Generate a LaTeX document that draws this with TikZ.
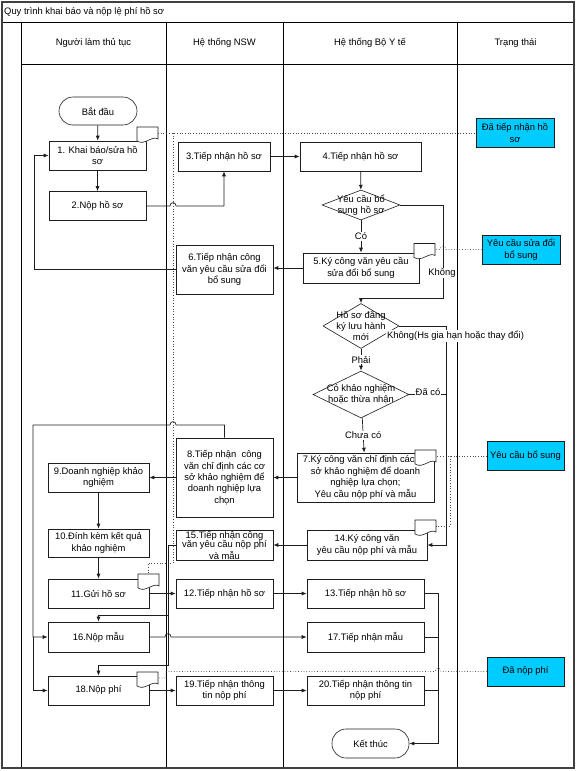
\documentclass[tikz,border=0pt]{standalone}
\usepackage{fontspec}
\setmainfont{Liberation Sans}
\usetikzlibrary{arrows.meta,shapes.geometric}
\definecolor{stcyan}{RGB}{0,204,255}
\definecolor{lnc}{RGB}{30,30,30}
\tikzset{
  docic/.pic={
    \draw[draw=lnc, line width=0.6pt, fill=white] (0,0) -- (21,0) -- (21,12) .. controls (15,8) and (8,19) .. (0,14) -- cycle;
    \coordinate (-r) at (21,6);
    \coordinate (-t) at (10,0);
  }
}
\begin{document}
\begin{tikzpicture}[x=1pt,y=-1pt,
  every node/.style={font=\fontsize{9.4}{11.4}\selectfont},
  box/.style={draw=lnc, line width=0.6pt, fill=white, align=center, inner sep=0pt},
  term/.style={box, rounded corners=14pt},
  stat/.style={box, fill=stcyan, minimum width=78pt, minimum height=29pt},
  dia/.style={draw=lnc, line width=0.6pt, fill=white, diamond, inner sep=0pt},
  txt/.style={align=center, inner sep=0pt},
  lbl/.style={inner sep=0.8pt, fill=white},
  conn/.style={draw=lnc, line width=0.7pt},
  arr/.style={conn, -{Latex[length=5pt,width=4pt]}},
  dot/.style={draw=gray!60!black, line width=0.7pt, dotted},
  lane/.style={draw=black, line width=0.8pt}
]
\useasboundingbox (0,0) rectangle (576,771);
% frame and lanes
\draw[lane] (2,22) -- (574,22);
\draw[lane] (21,64) -- (574,64);
\foreach \xx in {21,166,283,457} { \draw[lane] (\xx,22) -- (\xx,768); }
\draw[draw=black!75, line width=1.3pt] (2,2) rectangle (574,768);
\node[anchor=west, inner sep=0pt] (title) at (4,12) {Quy trình khai báo và nộp lệ phí hồ sơ};
\node (h1) at (93.5,43) {Người làm thủ tục};
\node (h2) at (224.5,43) {Hệ thống NSW};
\node (h3) at (370,43) {Hệ thống Bộ Y tế};
\node (h4) at (515.5,43) {Trạng thái};

% nodes
\node[term, minimum width=78pt, minimum height=28pt] (start) at (98,111) {Bắt đầu};
\node[box, minimum width=97pt, minimum height=29pt] (b1) at (97.5,155.5) {1. Khai báo/sửa hồ\\sơ};
\node[box, minimum width=97pt, minimum height=29pt] (b2) at (97.5,206) {2.Nộp hồ sơ};
\node[box, minimum width=92pt, minimum height=29pt] (b3) at (224,156.5) {3.Tiếp nhận hồ sơ};
\node[box, minimum width=121pt, minimum height=29pt] (b4) at (360.5,156.5) {4.Tiếp nhận hồ sơ};
\node[dia, minimum width=78pt, minimum height=30pt] (d1) at (361,205) {};
\node[txt] (d1t) at (d1) {Yêu cầu bổ\\sung hồ sơ};
\node[box, minimum width=116pt, minimum height=30pt] (b5) at (361,268) {5.Ký công văn yêu cầu\\sửa đổi bổ sung};
\node[box, minimum width=97pt, minimum height=49pt] (b6) at (224.5,269.5) {6.Tiếp nhận công\\văn yêu cầu sửa đổi\\bổ sung};
\node[dia, minimum width=76pt, minimum height=45pt] (d2) at (361,326) {};
\node[txt] (d2t) at (d2) {Hồ sơ đăng\\ký lưu hành\\mới};
\node[dia, minimum width=96pt, minimum height=47pt] (d3) at (361,394.5) {};
\node[txt] (d3t) at (d3) {Có khảo nghiệm\\hoặc thừa nhận};
\node[box, minimum width=137pt, minimum height=49pt] (b7) at (365.5,477.5) {7.Ký công văn chỉ định các cơ\\sở khảo nghiệm để doanh\\nghiệp lựa chọn;\\Yêu cầu nộp phí và mẫu};
\node[box, minimum width=97pt, minimum height=79pt] (b8) at (224.5,477.5) {8.Tiếp nhận \ công\\văn chỉ định các cơ\\sở khảo nghiệm để\\doanh nghiệp lựa\\chọn};
\node[box, minimum width=101pt, minimum height=29pt] (b9) at (98.5,477.5) {9.Doanh nghiệp khảo\\nghiệm};
\node[box, minimum width=101pt, minimum height=28pt] (b10) at (98.5,543) {10.Đính kèm kết quả\\khảo nghiệm};
\node[box, minimum width=97pt, minimum height=30pt, font=\fontsize{9.4}{9.9}\selectfont] (b15) at (224.5,545) {15.Tiếp nhận công\\văn yêu cầu nộp phí\\và mẫu};
\node[box, minimum width=120pt, minimum height=30pt] (b14) at (367,545) {14.Ký công văn\\yêu cầu nộp phí và mẫu};
\node[box, minimum width=101pt, minimum height=29pt] (b11) at (98.5,593.5) {11.Gửi hồ sơ};
\node[box, minimum width=97pt, minimum height=29pt] (b12) at (224.5,593.5) {12.Tiếp nhận hồ sơ};
\node[box, minimum width=117pt, minimum height=29pt] (b13) at (365.5,593.5) {13.Tiếp nhận hồ sơ};
\node[box, minimum width=101pt, minimum height=30pt] (b16) at (98.5,637) {16.Nộp mẫu};
\node[box, minimum width=117pt, minimum height=30pt] (b17) at (365.5,637) {17.Tiếp nhận mẫu};
\node[box, minimum width=101pt, minimum height=29pt] (b18) at (98.5,690.5) {18.Nộp phí};
\node[box, minimum width=97pt, minimum height=29pt] (b19) at (224.5,690.5) {19.Tiếp nhận thông\\tin nộp phí};
\node[box, minimum width=117pt, minimum height=29pt] (b20) at (365.5,690.5) {20.Tiếp nhận thông tin\\nộp phí};
\node[term, minimum width=77pt, minimum height=29pt] (end) at (370.5,743.5) {Kết thúc};

% status boxes
\node[stat] (s1) at (515,133) {Đã tiếp nhận hồ\\sơ};
\node[stat] (s2) at (521,249.5) {Yêu cầu sửa đổi\\bổ sung};
\node[stat, minimum width=77pt] (s3) at (525.5,456) {Yêu cầu bổ sung};
\node[stat, minimum width=77pt] (s4) at (525.5,671.5) {Đã nộp phí};

% document icons
\pic (i1) at (137,127) {docic};
\pic (i5) at (414,243.5) {docic};
\pic (i7) at (415,450) {docic};
\pic (i14) at (415,520) {docic};
\pic (i11) at (138,574) {docic};
\pic (i18) at (137,672) {docic};

% dotted status links
\draw[dot] (i1-r) -- (s1.west);
\draw[dot] (173,133) -- (173,563) -- (148,563) -- (i11-t);
\draw[dot] (s2.west) -- (446,249.5) .. controls (446,245) and (440,245) .. (440,249.5) -- (i5-r);
\draw[dot] (s3.west) -- (i7-r);
\draw[dot] (450,456) -- (450,526) -- (i14-r);
\draw[dot] (s4.west) -- (441,671.5) .. controls (441,667) and (435,667) .. (435,671.5) -- (166,671.5) -- (166,678) -- (i18-r);

% solid connectors
\draw[arr] (start) -- (b1);
\draw[arr] (b1) -- (b2);
\draw[arr] (b2.east) -- (170,206) .. controls (170,201.5) and (176,201.5) .. (176,206) -- (224,206) -- (b3.south);
\draw[arr] (b3) -- (b4);
\draw[arr] (b4) -- (d1);
\draw[arr] (d1) -- node[lbl]{Có} (b5);
\draw[arr] (b5.west) -- (b6.east |- b5.west);
\draw[arr] (b6.west) -- (34,269.5) -- (34,155.5) -- (b1.west);
\draw[arr] (d1.east) -- (443,205) -- (443,298) -- (361,298) -- (d2.north);
\node[lbl] (kh) at (442,273) {Không};
\draw[arr] (d2) -- node[lbl]{Phải} (d3);
\draw[arr] (d2.east) -- (446,326) -- (446,545) -- (b14.east);
\node[lbl, anchor=west] (kh2) at (386,336) {Không(Hs gia hạn hoặc thay đổi)};
\draw[conn] (d3.east) -- (446,394.5);
\node[lbl] (dc) at (428,392) {Đã có};
\draw[arr] (d3) -- node[lbl]{Chưa có} (b7);
\draw[arr] (b7) -- (b8);
\draw[arr] (b8) -- (b9);
\draw[arr] (b9) -- (b10);
\draw[arr] (b10) -- (b11);
\draw[arr] (b14) -- (b15);
\coordinate (j1) at (33,637);
\draw[arr] (b8.north) -- (224.5,425) -- (176,425) .. controls (176,420.5) and (170,420.5) .. (170,425) -- (33,425) -- (j1) -- (b16.west);
\draw[arr] (j1) -- (33,690.5) -- (b18.west);
\coordinate (j2) at (168,615);
\draw[arr] (b15.west) -- (168,545) -- (j2) -- (98.5,615) -- (b16.north);
\draw[arr] (j2) -- (168,665) -- (98.5,665) -- (b18.north);
\draw[arr] (b11) -- (b12);
\draw[arr] (b12) -- (b13);
\draw[arr] (b16.east) -- (165,637) .. controls (165,632.5) and (171,632.5) .. (171,637) -- (b17.west);
\draw[arr] (b18) -- (b19);
\draw[arr] (b19) -- (b20);
\coordinate (j3) at (438,690.5);
\draw[conn] (b13.east) -- (438,593.5) -- (j3);
\draw[conn] (b17.east) -- (438,637);
\draw[conn] (b20.east) -- (j3);
\draw[arr] (j3) -- (438,743.5) -- (end.east);
\end{tikzpicture}
\end{document}
